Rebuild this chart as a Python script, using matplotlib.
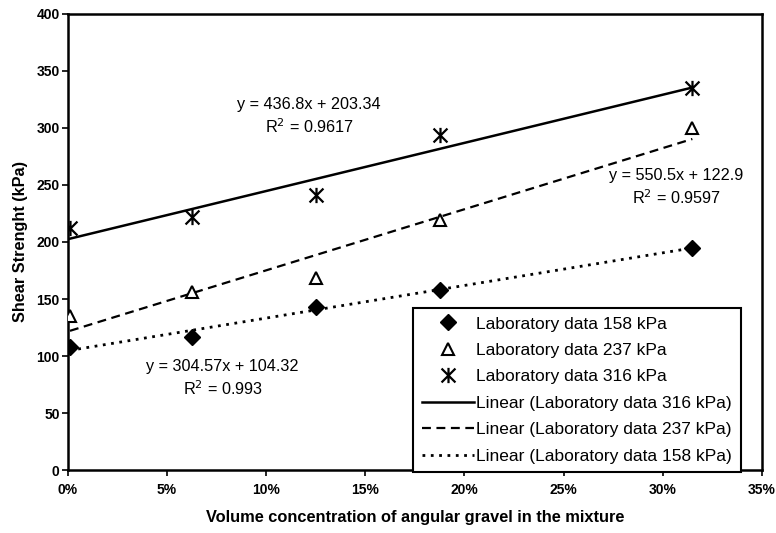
import matplotlib
matplotlib.use("Agg")
import matplotlib.pyplot as plt
import numpy as np
from matplotlib.path import Path
from matplotlib.ticker import PercentFormatter

plt.rcParams['font.family'] = ['Liberation Sans', 'DejaVu Sans']

# ---- data ----
x_conc = [0.001, 0.0625, 0.125, 0.1875, 0.3150]
y_158 = [108, 117, 143, 158, 195]
y_237 = [135, 156, 168, 219, 300]
y_316 = [212, 222, 241, 294, 335]

fit_text_316 = "y = 436.8x + 203.34\nR$^2$ = 0.9617"
fit_text_237 = "y = 550.5x + 122.9\nR$^2$ = 0.9597"
fit_text_158 = "y = 304.57x + 104.32\nR$^2$ = 0.993"

x_ticks = [0, 0.05, 0.10, 0.15, 0.20, 0.25, 0.30, 0.35]
y_ticks = [0, 50, 100, 150, 200, 250, 300, 350, 400]

fig = plt.figure(figsize=(7.76, 5.33), dpi=100)
ax = fig.add_axes([0.0876, 0.118, 0.894, 0.856])

star = Path([(-1, -1), (1, 1), (-1, 1), (1, -1), (0, -1.1), (0, 1.1)],
            [Path.MOVETO, Path.LINETO, Path.MOVETO, Path.LINETO, Path.MOVETO, Path.LINETO])

h1, = ax.plot(x_conc, y_158, ls='none', marker='D', ms=8.5, color='black',
              label='Laboratory data 158 kPa', zorder=5)
h2, = ax.plot(x_conc, y_237, ls='none', marker='^', ms=9, mfc='white', mec='black',
              mew=1.5, label='Laboratory data 237 kPa', zorder=5)
h3, = ax.plot(x_conc, y_316, ls='none', marker=star, ms=11, color='black', mew=1.6,
              label='Laboratory data 316 kPa', zorder=5)

xs = np.array([x_conc[0], x_conc[-1]])
def trend(y):
    p = np.polyfit(x_conc, y, 1)
    return np.polyval(p, xs)

l316, = ax.plot(xs, trend(y_316), color='black', lw=1.8, ls='-',
                label='Linear (Laboratory data 316 kPa)')
l237, = ax.plot(xs, trend(y_237), color='black', lw=1.6, ls=(0, (4, 2.5)),
                label='Linear (Laboratory data 237 kPa)')
l158, = ax.plot(xs, trend(y_158), color='black', lw=2.0, ls=(0, (1, 2)),
                label='Linear (Laboratory data 158 kPa)')

tkw = dict(fontsize=11.7, ha='center', va='center', linespacing=1.35)
ax.text(0.1217, 310, fit_text_316, **tkw)
ax.text(0.307, 248, fit_text_237, **tkw)
ax.text(0.078, 80, fit_text_158, **tkw)

ax.set_xlim(0, 0.35)
ax.set_ylim(0, 400)
ax.set_xticks(x_ticks)
ax.set_yticks(y_ticks)
ax.xaxis.set_major_formatter(PercentFormatter(1.0, decimals=0))
ax.tick_params(direction='out', length=4, width=1.2, labelsize=10, pad=2)
ax.tick_params(axis='x', pad=5)
for lab in ax.get_xticklabels() + ax.get_yticklabels():
    lab.set_fontweight('bold')
for s in ax.spines.values():
    s.set_linewidth(1.8)

ax.set_xlabel('Volume concentration of angular gravel in the mixture',
              fontsize=11.8, fontweight='bold', labelpad=10)
ax.set_ylabel('Shear Strenght (kPa)', fontsize=11.7, fontweight='bold', labelpad=6)

leg = ax.legend(handles=[h1, h2, h3, l316, l237, l158], loc='lower right',
                bbox_to_anchor=(0.97, -0.005), fontsize=12.5, frameon=True,
                fancybox=False, edgecolor='black', framealpha=1,
                handlelength=3.0, labelspacing=0.65, borderpad=0.5,
                handletextpad=0.15, borderaxespad=0.0)
leg.get_frame().set_linewidth(1.5)

fig.savefig('out.png', dpi=100)
